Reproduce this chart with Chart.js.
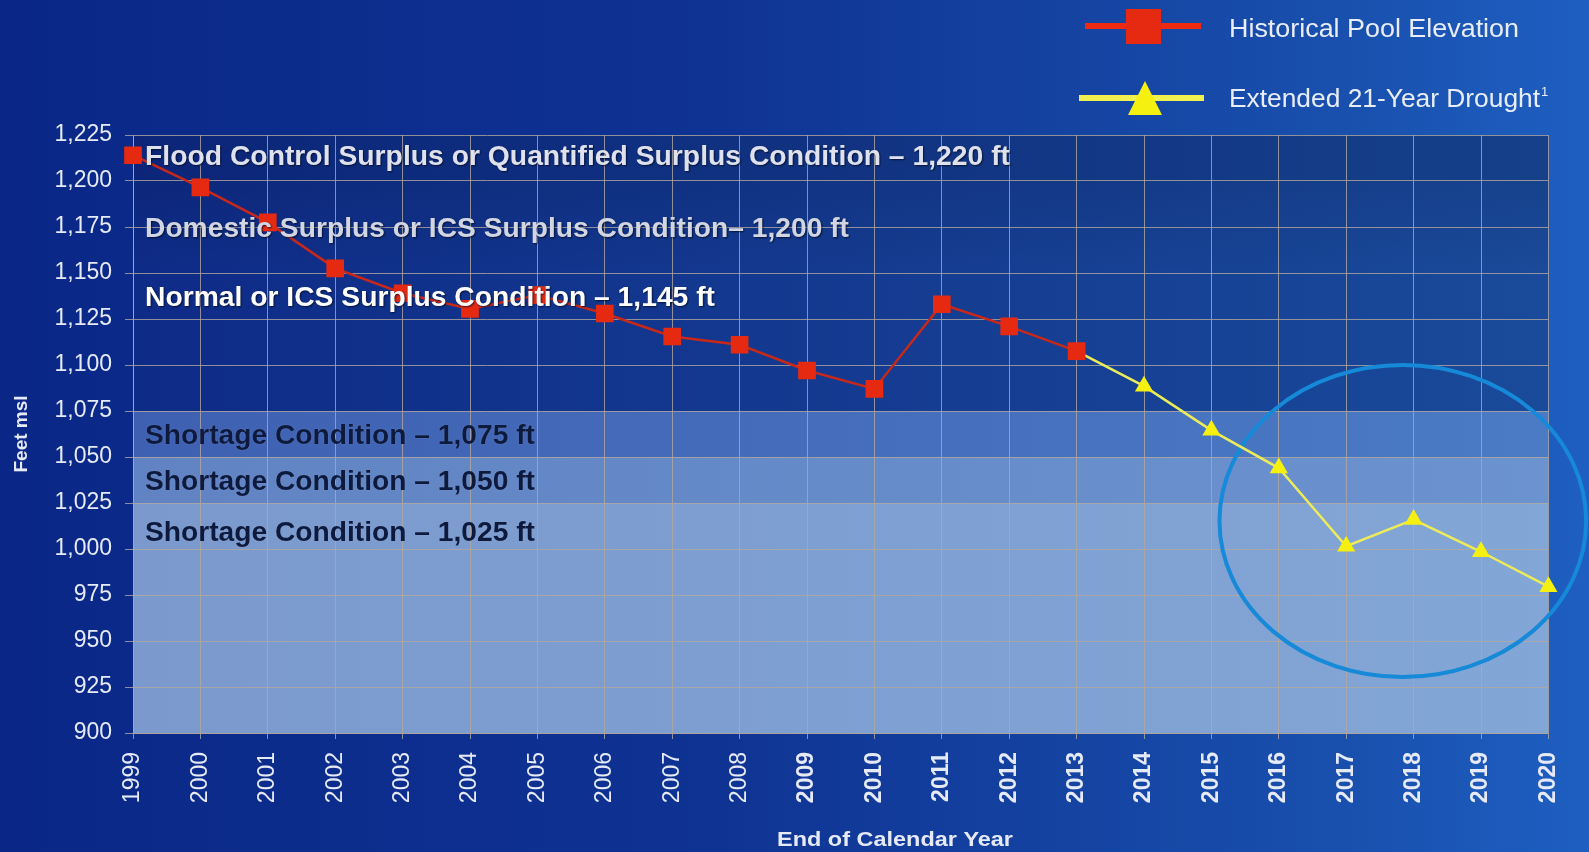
<!DOCTYPE html>
<html>
<head>
<meta charset="utf-8">
<script src="https://cdn.jsdelivr.net/npm/chart.js@4.4.1/dist/chart.umd.min.js"></script>
<style>
  html, body { margin: 0; padding: 0; background: #0b2a8a; }
  canvas { display: block; }
</style>
</head>
<body>
<canvas id="chart" width="1589" height="852"></canvas>
<script>
// end of calendar year
const years = ['1999', '2000', '2001', '2002', '2003', '2004', '2005', '2006', '2007', '2008', '2009',
  '2010', '2011', '2012', '2013', '2014', '2015', '2016', '2017', '2018', '2019', '2020'];

// pool elevation, feet msl
const historical = [1214, 1196.5, 1177.5, 1152.5, 1139, 1130.5, 1138, 1128, 1115.5, 1111, 1097,
  1087, 1133, 1121, 1107.5, null, null, null, null, null, null, null];
const drought = [null, null, null, null, null, null, null, null, null, null, null,
  null, null, null, 1107.5, 1088.5, 1064.5, 1044, 1001.5, 1016, 998.5, 979.5];

// y axis
const yMin = 900;
const yMax = 1225;
const yStep = 25;

// condition bands (feet msl) and their labels
const bandEdges = [1225, 1075, 1050, 1025, 900];
const conditionLabels = [
  'Flood Control Surplus or Quantified Surplus Condition \u2013 1,220 ft',
  'Domestic Surplus or ICS Surplus Condition\u2013 1,200 ft',
  'Normal or ICS Surplus Condition \u2013 1,145 ft',
  'Shortage Condition \u2013 1,075 ft',
  'Shortage Condition \u2013 1,050 ft',
  'Shortage Condition \u2013 1,025 ft'
];

const tickColor = '#e6eaf6';
const gridColor = 'rgba(178,168,158,0.8)';

// draw text squeezed/stretched to a given width
function fitText(c, text, x, y, w) {
  const m = c.measureText(text).width;
  c.save();
  c.translate(x, y);
  c.scale(w / m, 1);
  c.fillText(text, 0, 0);
  c.restore();
}

const backdrop = {
  id: 'backdrop',
  beforeDraw(chart) {
    const c = chart.ctx;
    const { width, height, chartArea: a } = chart;
    const y = chart.scales.y;

    // page
    let g = c.createLinearGradient(0, 0, width, 0);
    g.addColorStop(0, '#0a2787');
    g.addColorStop(0.45, '#0f3393');
    g.addColorStop(0.85, '#1950ae');
    g.addColorStop(1, '#1e5fc1');
    c.fillStyle = g;
    c.fillRect(0, 0, width, height);

    // bands
    const fills = [
      ['#0e2b87', '#1a4a9a'],
      ['#3f60b2', '#4b7bc5'],
      ['#6183c3', '#6b93cf'],
      ['#7b99cd', '#82a6d6']
    ];
    for (let i = 0; i < bandEdges.length - 1; i++) {
      const top = y.getPixelForValue(bandEdges[i]);
      const bot = y.getPixelForValue(bandEdges[i + 1]);
      g = c.createLinearGradient(a.left, 0, a.right, 0);
      g.addColorStop(0, fills[i][0]);
      g.addColorStop(1, fills[i][1]);
      c.fillStyle = g;
      c.fillRect(a.left, top, a.right - a.left, bot - top);
    }
    // slightly darker strip near the top
    const t0 = y.getPixelForValue(1225), t1 = y.getPixelForValue(1200), t2 = y.getPixelForValue(1150);
    c.fillStyle = 'rgba(0,10,40,0.14)';
    c.fillRect(a.left, t0, a.right - a.left, t1 - t0);
    g = c.createLinearGradient(0, t1, 0, t2);
    g.addColorStop(0, 'rgba(0,10,40,0.12)');
    g.addColorStop(1, 'rgba(0,10,40,0)');
    c.fillStyle = g;
    c.fillRect(a.left, t1, a.right - a.left, t2 - t1);
  },
  beforeDatasetsDraw(chart) {
    // circled drought years
    const c = chart.ctx;
    const x = chart.scales.x, y = chart.scales.y;
    const cx = x.getPixelForValue(18.84);
    const cy = y.getPixelForValue(1015.2);
    const rx = x.getPixelForValue(18.84 + 2.72) - cx;
    const ry = cy - y.getPixelForValue(1015.2 + 84.8);
    c.save();
    c.strokeStyle = '#1689d8';
    c.lineWidth = 4;
    c.beginPath();
    c.ellipse(cx, cy, rx, ry, 0, 0, Math.PI * 2);
    c.stroke();
    c.restore();
  },
  afterDatasetsDraw(chart) {
    const c = chart.ctx;
    const y = chart.scales.y;
    const left = chart.chartArea.left + 12;
    const specs = [
      { at: 1213, w: 865, color: '#dfe2ec', shadow: true },
      { at: 1174, w: 704, color: '#d2d6e2', shadow: true },
      { at: 1136.5, w: 570, color: '#ffffff', shadow: true },
      { at: 1061.5, w: 390, color: '#0d1a3e', shadow: false },
      { at: 1036, w: 390, color: '#0d1a3e', shadow: false },
      { at: 1008.5, w: 390, color: '#0d1a3e', shadow: false }
    ];
    c.save();
    c.font = 'bold 28px "Liberation Sans", Arial, sans-serif';
    c.textBaseline = 'middle';
    c.textAlign = 'left';
    conditionLabels.forEach((txt, i) => {
      const s = specs[i];
      c.fillStyle = s.color;
      if (s.shadow) {
        c.shadowColor = 'rgba(0,5,30,0.75)';
        c.shadowBlur = 2;
        c.shadowOffsetX = 1;
        c.shadowOffsetY = 1;
      } else {
        c.shadowColor = 'rgba(160,180,220,0.5)';
        c.shadowBlur = 1;
        c.shadowOffsetX = 0;
        c.shadowOffsetY = 0;
      }
      fitText(c, txt, left, y.getPixelForValue(s.at), s.w);
    });
    c.restore();
  },
  afterDraw(chart) {
    const c = chart.ctx;
    const ds = chart.data.datasets;
    c.save();
    // legend
    c.lineCap = 'butt';
    c.strokeStyle = '#ee2a10';
    c.lineWidth = 6;
    c.beginPath(); c.moveTo(1085, 26); c.lineTo(1201, 26); c.stroke();
    c.fillStyle = ds[0].pointBackgroundColor;
    c.fillRect(1126, 9, 35, 35);

    c.strokeStyle = '#f0f050';
    c.beginPath(); c.moveTo(1079, 98); c.lineTo(1204, 98); c.stroke();
    c.fillStyle = ds[1].pointBackgroundColor;
    c.beginPath(); c.moveTo(1145, 81); c.lineTo(1162, 115); c.lineTo(1128, 115); c.closePath(); c.fill();

    c.fillStyle = '#e8edf8';
    c.font = '25px "Liberation Sans", Arial, sans-serif';
    c.textBaseline = 'middle';
    c.textAlign = 'left';
    fitText(c, ds[0].label, 1229, 30, 290);
    fitText(c, ds[1].label, 1229, 100, 311);
    c.font = '13px "Liberation Sans", Arial, sans-serif';
    c.fillText('1', 1541, 92);

    // x axis title
    c.font = 'bold 21px "Liberation Sans", Arial, sans-serif';
    c.textAlign = 'left';
    c.fillStyle = tickColor;
    fitText(c, 'End of Calendar Year', 777, 840, 236);
    c.restore();
  }
};

new Chart(document.getElementById('chart'), {
  type: 'line',
  data: {
    labels: years,
    datasets: [
      {
        label: 'Historical Pool Elevation',
        data: historical,
        borderColor: '#c8281a',
        borderWidth: 2.5,
        pointStyle: 'rect',
        pointRadius: 12.5,
        pointBackgroundColor: '#e62a12',
        pointBorderWidth: 0,
        spanGaps: false,
        tension: 0
      },
      {
        label: 'Extended 21-Year Drought',
        data: drought,
        borderColor: '#ecec5a',
        borderWidth: 2.5,
        pointStyle: 'triangle',
        pointRadius: (ctx) => (ctx.dataIndex === 14 ? 0 : 10.5),
        pointBackgroundColor: '#f6f010',
        pointBorderWidth: 0,
        tension: 0
      }
    ]
  },
  options: {
    responsive: false,
    animation: false,
    events: [],
    layout: { padding: { top: 135, right: 40, left: 0, bottom: 0 } },
    plugins: { legend: { display: false }, tooltip: { enabled: false } },
    scales: {
      x: {
        offset: false,
        grid: { color: gridColor, lineWidth: 1, tickLength: 6, offset: false },
        border: { color: gridColor },
        ticks: {
          color: tickColor,
          autoSkip: false,
          maxRotation: 90,
          minRotation: 90,
          padding: 13,
          font: (ctx) => ({
            family: '"Liberation Sans", Arial, sans-serif',
            size: 23,
            weight: ctx.index >= 10 ? 'bold' : 'normal'
          })
        },
        afterFit: (s) => { s.height = 119; }
      },
      y: {
        min: yMin,
        max: yMax,
        grid: { color: gridColor, lineWidth: 1, tickLength: 8 },
        border: { color: gridColor },
        ticks: {
          stepSize: yStep,
          color: tickColor,
          padding: 13,
          font: { family: '"Liberation Sans", Arial, sans-serif', size: 23 },
          callback: (v) => v.toLocaleString('en-US')
        },
        title: {
          display: true,
          text: 'Feet msl',
          color: tickColor,
          font: { family: '"Liberation Sans", Arial, sans-serif', size: 19, weight: 'bold' },
          padding: { top: 10, bottom: 0 }
        },
        afterFit: (s) => { s.width = 133; }
      }
    }
  },
  plugins: [backdrop]
});
</script>
</body>
</html>
